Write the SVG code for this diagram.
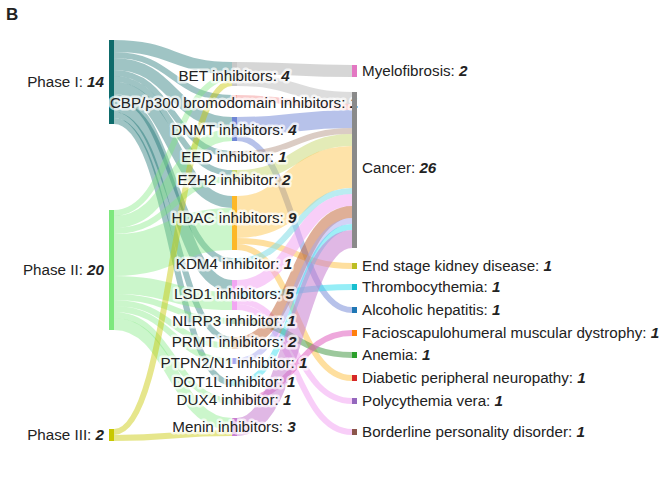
<svg xmlns="http://www.w3.org/2000/svg" width="666" height="477" viewBox="0 0 666 477">
<style>
text{font-family:"Liberation Sans",Arial,sans-serif;font-size:15.2px;fill:#222}
.v{font-weight:bold;font-style:italic}
.lk path{fill:none}
.p1{stroke:#0e6b6b;stroke-opacity:.4}
.p2{stroke:#7de87d;stroke-opacity:.4}
.p3{stroke:#c8c800;stroke-opacity:.45}
.mid{paint-order:stroke;stroke:#fff;stroke-opacity:.7;stroke-width:5px;stroke-linejoin:round}
</style>
<rect width="666" height="477" fill="#fff"/>
<text x="6" y="20" style="font-weight:bold;font-size:17px">B</text>
<g id="connectors" class="lk">
<path class="p1" stroke-width="12" d="M114 46C173 46 173 68 232 68"/>
<path class="p1" stroke-width="6" d="M114 55C173 55 173 98 232 98"/>
<path class="p1" stroke-width="12" d="M114 64C173 64 173 123 232 123"/>
<path class="p1" stroke-width="6" d="M114 73C173 73 173 154 232 154"/>
<path class="p1" stroke-width="6" d="M114 79C173 79 173 173 232 173"/>
<path class="p1" stroke-width="12" d="M114 88C173 88 173 202 232 202"/>
<path class="p1" stroke-width="6" d="M114 97C173 97 173 261 232 261"/>
<path class="p1" stroke-width="12" d="M114 106C173 106 173 286 232 286"/>
<path class="p1" stroke-width="6" d="M114 115C173 115 173 340 232 340"/>
<path class="p1" stroke-width="6" d="M114 121C173 121 173 383 232 383"/>
<path class="p2" stroke-width="6" d="M114 213C173 213 173 77 232 77"/>
<path class="p2" stroke-width="12" d="M114 222C173 222 173 135 232 135"/>
<path class="p2" stroke-width="6" d="M114 231C173 231 173 179 232 179"/>
<path class="p2" stroke-width="42" d="M114 255C173 255 173 229 232 229"/>
<path class="p2" stroke-width="18" d="M114 285C173 285 173 301 232 301"/>
<path class="p2" stroke-width="6" d="M114 297C173 297 173 321 232 321"/>
<path class="p2" stroke-width="6" d="M114 303C173 303 173 346 232 346"/>
<path class="p2" stroke-width="6" d="M114 309C173 309 173 361 232 361"/>
<path class="p2" stroke-width="6" d="M114 315C173 315 173 401 232 401"/>
<path class="p2" stroke-width="12" d="M114 324C173 324 173 424 232 424"/>
<path class="p3" stroke-width="6" d="M114 432C173 432 173 83 232 83"/>
<path class="p3" stroke-width="6" d="M114 438C173 438 173 433 232 433"/>
<path stroke="#bbb" stroke-opacity=".6" stroke-width="12" d="M237 68C295 68 295 71 352 71"/>
<path stroke="#bbb" stroke-opacity=".5" stroke-width="12" d="M237 80C295 80 295 98 352 98"/>
<path stroke="#f4a0a0" stroke-opacity=".55" stroke-width="6" d="M237 98C295 98 295 107 352 107"/>
<path stroke="#6f86d6" stroke-opacity=".5" stroke-width="18" d="M237 126C295 126 295 119 352 119"/>
<path stroke="#6f86d6" stroke-opacity=".5" stroke-width="6" d="M237 138C295 138 295 310 352 310"/>
<path stroke="#b89a8a" stroke-opacity=".5" stroke-width="6" d="M237 154C295 154 295 131 352 131"/>
<path stroke="#c8d870" stroke-opacity=".5" stroke-width="12" d="M237 176C295 176 295 140 352 140"/>
<path stroke="#fdc040" stroke-opacity=".45" stroke-width="42" d="M237 217C295 217 295 167 352 167"/>
<path stroke="#fdc040" stroke-opacity=".5" stroke-width="6" d="M237 241C295 241 295 266 352 266"/>
<path stroke="#fdc040" stroke-opacity=".5" stroke-width="6" d="M237 247C295 247 295 378 352 378"/>
<path stroke="#8ce0e8" stroke-opacity=".6" stroke-width="6" d="M237 261C295 261 295 191 352 191"/>
<path stroke="#f2a6f2" stroke-opacity=".55" stroke-width="12" d="M237 286C295 286 295 200 352 200"/>
<path stroke="#40e0f0" stroke-opacity=".55" stroke-width="6" d="M237 295C295 295 295 287 352 287"/>
<path stroke="#f2a6f2" stroke-opacity=".55" stroke-width="6" d="M237 301C295 301 295 401 352 401"/>
<path stroke="#f2a6f2" stroke-opacity=".55" stroke-width="6" d="M237 307C295 307 295 432 352 432"/>
<path stroke="#4a9a4a" stroke-opacity=".55" stroke-width="6" d="M237 321C295 321 295 355 352 355"/>
<path stroke="#c06030" stroke-opacity=".5" stroke-width="12" d="M237 343C295 343 295 212 352 212"/>
<path stroke="#a8a8f0" stroke-opacity=".5" stroke-width="6" d="M237 361C295 361 295 221 352 221"/>
<path stroke="#40e0f0" stroke-opacity=".5" stroke-width="6" d="M237 383C295 383 295 227 352 227"/>
<path stroke="#e060c0" stroke-opacity=".55" stroke-width="6" d="M237 401C295 401 295 333 352 333"/>
<path stroke="#c77dd0" stroke-opacity=".55" stroke-width="18" d="M237 427C295 427 295 239 352 239"/>
</g>
<g id="phase1"><rect x="109" y="40" width="5" height="84" fill="#0e6b6b"/><text x="104" y="87" text-anchor="end">Phase I: <tspan class="v">14</tspan></text></g>
<g id="phase2"><rect x="109" y="210" width="5" height="120" fill="#7de87d"/><text x="104" y="275" text-anchor="end">Phase II: <tspan class="v">20</tspan></text></g>
<g id="phase3"><rect x="109" y="429" width="5" height="12" fill="#c8c800"/><text x="104" y="440" text-anchor="end">Phase III: <tspan class="v">2</tspan></text></g>
<g id="middle" text-anchor="middle">
<g id="bet"><rect x="232" y="62" width="5" height="24" fill="#c8c8c8"/><text class="mid" x="234" y="81">BET inhibitors: <tspan class="v">4</tspan></text></g>
<g id="cbp"><rect x="232" y="95" width="5" height="6" fill="#f4a0a0"/><text class="mid" x="234" y="108">CBP/p300 bromodomain inhibitors: <tspan class="v">1</tspan></text></g>
<g id="dnmt"><rect x="232" y="117" width="5" height="24" fill="#6f86d6"/><text class="mid" x="234" y="135">DNMT inhibitors: <tspan class="v">4</tspan></text></g>
<g id="eed"><rect x="232" y="151" width="5" height="6" fill="#b89a8a"/><text class="mid" x="234" y="162">EED inhibitor: <tspan class="v">1</tspan></text></g>
<g id="ezh2"><rect x="232" y="170" width="5" height="12" fill="#c8d870"/><text class="mid" x="234" y="185">EZH2 inhibitor: <tspan class="v">2</tspan></text></g>
<g id="hdac"><rect x="232" y="196" width="5" height="54" fill="#fdb827"/><text class="mid" x="234" y="223">HDAC inhibitors: <tspan class="v">9</tspan></text></g>
<g id="kdm4"><rect x="232" y="258" width="5" height="6" fill="#8ce0e8"/><text class="mid" x="234" y="269">KDM4 inhibitor: <tspan class="v">1</tspan></text></g>
<g id="lsd1"><rect x="232" y="280" width="5" height="30" fill="#f2a6f2"/><text class="mid" x="234" y="299">LSD1 inhibitors: <tspan class="v">5</tspan></text></g>
<g id="nlrp3"><rect x="232" y="318" width="5" height="6" fill="#4a9a4a"/><text class="mid" x="234" y="326">NLRP3 inhibitor: <tspan class="v">1</tspan></text></g>
<g id="prmt"><rect x="232" y="337" width="5" height="12" fill="#e0a060"/><text class="mid" x="234" y="347">PRMT inhibitors: <tspan class="v">2</tspan></text></g>
<g id="ptpn2"><rect x="232" y="358" width="5" height="6" fill="#a8a8f0"/><text class="mid" x="234" y="368">PTPN2/N1 inhibitor: <tspan class="v">1</tspan></text></g>
<g id="dot1l"><rect x="232" y="380" width="5" height="6" fill="#40e0f0"/><text class="mid" x="234" y="387">DOT1L inhibitor: <tspan class="v">1</tspan></text></g>
<g id="dux4"><rect x="232" y="398" width="5" height="6" fill="#f0e0f0"/><text class="mid" x="234" y="405">DUX4 inhibitor: <tspan class="v">1</tspan></text></g>
<g id="menin"><rect x="232" y="418" width="5" height="18" fill="#c77dd0"/><text class="mid" x="234" y="432">Menin inhibitors: <tspan class="v">3</tspan></text></g>
</g>
<g id="right">
<g id="myelo"><rect x="352" y="65" width="5" height="12" fill="#e377c2"/><text x="362" y="76">Myelofibrosis: <tspan class="v">2</tspan></text></g>
<g id="cancer"><rect x="352" y="92" width="5" height="156" fill="#8a8a8a"/><text x="362" y="173">Cancer: <tspan class="v">26</tspan></text></g>
<g id="eskd"><rect x="352" y="263" width="5" height="6" fill="#bcbd22"/><text x="362" y="271">End stage kidney disease: <tspan class="v">1</tspan></text></g>
<g id="thrombo"><rect x="352" y="284" width="5" height="6" fill="#17becf"/><text x="362" y="292">Thrombocythemia: <tspan class="v">1</tspan></text></g>
<g id="alco"><rect x="352" y="307" width="5" height="6" fill="#1f77b4"/><text x="362" y="315">Alcoholic hepatitis: <tspan class="v">1</tspan></text></g>
<g id="fshd"><rect x="352" y="330" width="5" height="6" fill="#ff7f0e"/><text x="362" y="338">Facioscapulohumeral muscular dystrophy: <tspan class="v">1</tspan></text></g>
<g id="anemia"><rect x="352" y="352" width="5" height="6" fill="#2ca02c"/><text x="362" y="360">Anemia: <tspan class="v">1</tspan></text></g>
<g id="dpn"><rect x="352" y="375" width="5" height="6" fill="#d62728"/><text x="362" y="383">Diabetic peripheral neuropathy: <tspan class="v">1</tspan></text></g>
<g id="pv"><rect x="352" y="398" width="5" height="6" fill="#9467bd"/><text x="362" y="406">Polycythemia vera: <tspan class="v">1</tspan></text></g>
<g id="bpd"><rect x="352" y="429" width="5" height="6" fill="#8c564b"/><text x="362" y="437">Borderline personality disorder: <tspan class="v">1</tspan></text></g>
</g>
</svg>
